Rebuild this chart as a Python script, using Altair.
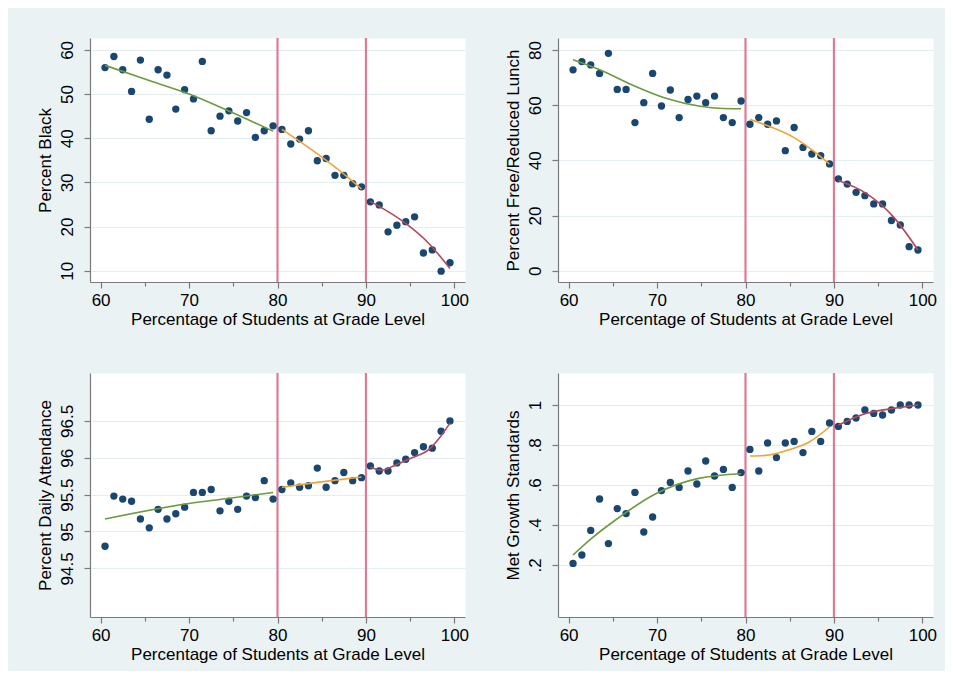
import altair as alt
import pandas as pd

# ---------------- data ----------------
x_bins = [60.5, 61.5, 62.5, 63.5, 64.5, 65.5, 66.5, 67.5, 68.5, 69.5,
          70.5, 71.5, 72.5, 73.5, 74.5, 75.5, 76.5, 77.5, 78.5, 79.5,
          80.5, 81.5, 82.5, 83.5, 84.5, 85.5, 86.5, 87.5, 88.5, 89.5,
          90.5, 91.5, 92.5, 93.5, 94.5, 95.5, 96.5, 97.5, 98.5, 99.5]

pct_black = [56.0, 58.5, 55.5, 50.6, 57.7, 44.3, 55.5, 54.3, 46.6, 51.0,
             48.9, 57.4, 41.7, 45.0, 46.2, 43.9, 45.8, 40.2, 41.7, 42.8,
             42.0, 38.7, 39.8, 41.7, 34.9, 35.4, 31.6, 31.6, 29.7, 29.0,
             25.6, 24.9, 18.8, 20.3, 21.1, 22.2, 14.0, 14.7, 9.9, 11.8]

pct_frl = [72.8, 75.8, 74.6, 71.5, 78.8, 65.7, 65.7, 53.7, 60.9, 71.5,
           59.7, 65.5, 55.5, 62.1, 63.3, 60.9, 63.3, 55.5, 53.7, 61.5,
           53.1, 55.5, 53.1, 54.3, 43.5, 51.9, 44.7, 42.3, 41.7, 38.7,
           33.3, 31.4, 28.4, 27.2, 24.2, 24.2, 18.2, 16.6, 8.7, 7.5]

pct_attend = [94.80, 95.48, 95.44, 95.41, 95.17, 95.05, 95.30, 95.17, 95.24, 95.33,
              95.53, 95.53, 95.57, 95.28, 95.41, 95.30, 95.48, 95.46, 95.69, 95.44,
              95.57, 95.66, 95.60, 95.62, 95.86, 95.60, 95.69, 95.80, 95.69, 95.73,
              95.89, 95.82, 95.82, 95.93, 95.98, 96.07, 96.15, 96.13, 96.36, 96.50]

met_growth = [0.208, 0.25, 0.373, 0.53, 0.307, 0.482, 0.457, 0.563, 0.365, 0.44,
              0.572, 0.613, 0.588, 0.67, 0.605, 0.72, 0.645, 0.678, 0.588, 0.662,
              0.778, 0.67, 0.81, 0.737, 0.81, 0.818, 0.762, 0.868, 0.818, 0.91,
              0.893, 0.918, 0.935, 0.975, 0.958, 0.95, 0.975, 1.0, 1.0, 1.0]

cutoffs = [80, 90]

# fitted curves (x, y) read along each segment
black_fit_low_x = [60.5, 65, 70, 75, 79.5]
black_fit_low_y = [56.5, 53.4, 50.0, 45.7, 41.6]
black_fit_mid_x = [80.5, 83, 85.5, 88, 89.5]
black_fit_mid_y = [42.0, 38.6, 35.0, 31.1, 28.5]
black_fit_high_x = [90.5, 94.5, 97, 99.5]
black_fit_high_y = [25.7, 20.7, 16.4, 10.5]

frl_fit_low_x = [60.5, 63.4, 67.2, 71, 74.7, 77, 79.5]
frl_fit_low_y = [76.5, 73.0, 67.3, 62.5, 59.7, 58.9, 58.7]
frl_fit_mid_x = [80.5, 82.3, 85.3, 88, 89.5]
frl_fit_mid_y = [54.8, 52.8, 48.6, 42.6, 38.6]
frl_fit_high_x = [90.5, 93.6, 96.7, 99.5]
frl_fit_high_y = [32.7, 28.1, 19.6, 7.5]

att_fit_low_x = [60.5, 70, 74.6, 79.5]
att_fit_low_y = [95.17, 95.38, 95.45, 95.53]
att_fit_mid_x = [80.5, 84.7, 89.5]
att_fit_mid_y = [95.60, 95.67, 95.74]
att_fit_high_x = [90.5, 91.8, 93.3, 95.2, 97.1, 98.5, 99.5]
att_fit_high_y = [95.87, 95.83, 95.90, 96.0, 96.11, 96.3, 96.47]

grw_fit_low_x = [60.5, 62.6, 65.3, 69.8, 74.7, 79.5]
grw_fit_low_y = [0.25, 0.333, 0.425, 0.555, 0.633, 0.656]
grw_fit_mid_x = [80.5, 82.3, 84.6, 87.2, 89.5]
grw_fit_mid_y = [0.745, 0.748, 0.772, 0.815, 0.89]
grw_fit_high_x = [90.5, 92.1, 93.6, 96.7, 99.5]
grw_fit_high_y = [0.9, 0.933, 0.957, 0.983, 1.0]

x_ticks = [60, 70, 80, 90, 100]
x_minor = [65, 75, 85, 95]
x_title = "Percentage of Students at Grade Level"

# ---------------- styling ----------------
BG = "#eaf2f3"
NAVY = "#1a476f"
GREEN = "#6b9a3f"
ORANGE = "#f2a234"
RED = "#b4485c"
CUT = "#e07a92"
AXC = "#7a7a7a"
FONT = "Liberation Sans"

PW, PH = 375, 244
xscale = alt.Scale(domain=[58.8, 101.2], nice=False, zero=False)


def panel(ytitle, yvals, ydomain, yticks, yfmt, fits, label_expr=None):
    yscale = alt.Scale(domain=ydomain, nice=False, zero=False)
    yaxis_kw = dict(values=yticks, title=ytitle, grid=True, gridColor="#e4eef0",
                    gridWidth=1.2, labelAngle=270, tickSize=6, labelPadding=8,
                    titlePadding=4, format=yfmt, labelOverlap=False)
    if label_expr:
        yaxis_kw["labelExpr"] = label_expr
    yaxis = alt.Axis(**yaxis_kw)
    xaxis = alt.Axis(values=x_ticks, title=x_title, grid=False, tickSize=6,
                     labelPadding=4, titlePadding=3, orient="bottom",
                     labelOverlap=False)

    pts = pd.DataFrame({"x": x_bins, "y": yvals})
    rules = alt.Chart(pd.DataFrame({"c": cutoffs})).mark_rule(
        color=CUT, strokeWidth=2.2).encode(x=alt.X("c:Q", scale=xscale, axis=xaxis))
    dots = alt.Chart(pts).mark_circle(size=54, color=NAVY, opacity=1).encode(
        x=alt.X("x:Q", scale=xscale, axis=xaxis),
        y=alt.Y("y:Q", scale=yscale, axis=yaxis))
    layers = [rules, dots]
    for (fx, fy), col in zip(fits, [GREEN, ORANGE, RED]):
        layers.append(
            alt.Chart(pd.DataFrame({"x": fx, "y": fy})).mark_line(
                color=col, strokeWidth=1.6, interpolate="monotone").encode(
                x=alt.X("x:Q", scale=xscale, axis=xaxis),
                y=alt.Y("y:Q", scale=yscale, axis=yaxis)))
    main = alt.layer(*layers)
    minor = alt.Chart(pd.DataFrame({"m": x_minor})).mark_point(opacity=0).encode(
        x=alt.X("m:Q", scale=xscale,
                axis=alt.Axis(values=x_minor, labels=False, domain=False, grid=False,
                              tickSize=4, title=None, orient="bottom")))
    return alt.layer(main, minor).resolve_axis(x="independent").properties(
        width=PW, height=PH)


p1 = panel("Percent Black", pct_black, [7.44, 62.7], [10, 20, 30, 40, 50, 60], "d",
           [(black_fit_low_x, black_fit_low_y), (black_fit_mid_x, black_fit_mid_y),
            (black_fit_high_x, black_fit_high_y)])
p2 = panel("Percent Free/Reduced Lunch", pct_frl, [-4.1, 84.35], [0, 20, 40, 60, 80], "d",
           [(frl_fit_low_x, frl_fit_low_y), (frl_fit_mid_x, frl_fit_mid_y),
            (frl_fit_high_x, frl_fit_high_y)])
p3 = panel("Percent Daily Attendance", pct_attend, [93.84, 97.15],
           [94.5, 95, 95.5, 96, 96.5], ".1~f",
           [(att_fit_low_x, att_fit_low_y), (att_fit_mid_x, att_fit_mid_y),
            (att_fit_high_x, att_fit_high_y)])
p4 = panel("Met Growth Standards", met_growth, [-0.06, 1.16],
           [0.2, 0.4, 0.6, 0.8, 1.0], ".1~f",
           [(grw_fit_low_x, grw_fit_low_y), (grw_fit_mid_x, grw_fit_mid_y),
            (grw_fit_high_x, grw_fit_high_y)],
           label_expr="replace(datum.label, '0.', '.')")

chart = alt.vconcat(
    alt.hconcat(p1, p2, spacing=33),
    alt.hconcat(p3, p4, spacing=33),
    spacing=43,
).properties(
    background=BG,
    padding={"left": 27, "top": 28, "right": 7, "bottom": 8},
).configure_view(
    fill="white", stroke="transparent"
).configure_axis(
    labelFont=FONT, labelFontSize=17, labelColor="black",
    titleFont=FONT, titleFontSize=17, titleFontWeight="normal", titleColor="black",
    domainColor=AXC, tickColor=AXC, domainWidth=1.2, tickWidth=1.2,
)

chart.save("out.html", embed_options={"renderer": "svg", "actions": False})
